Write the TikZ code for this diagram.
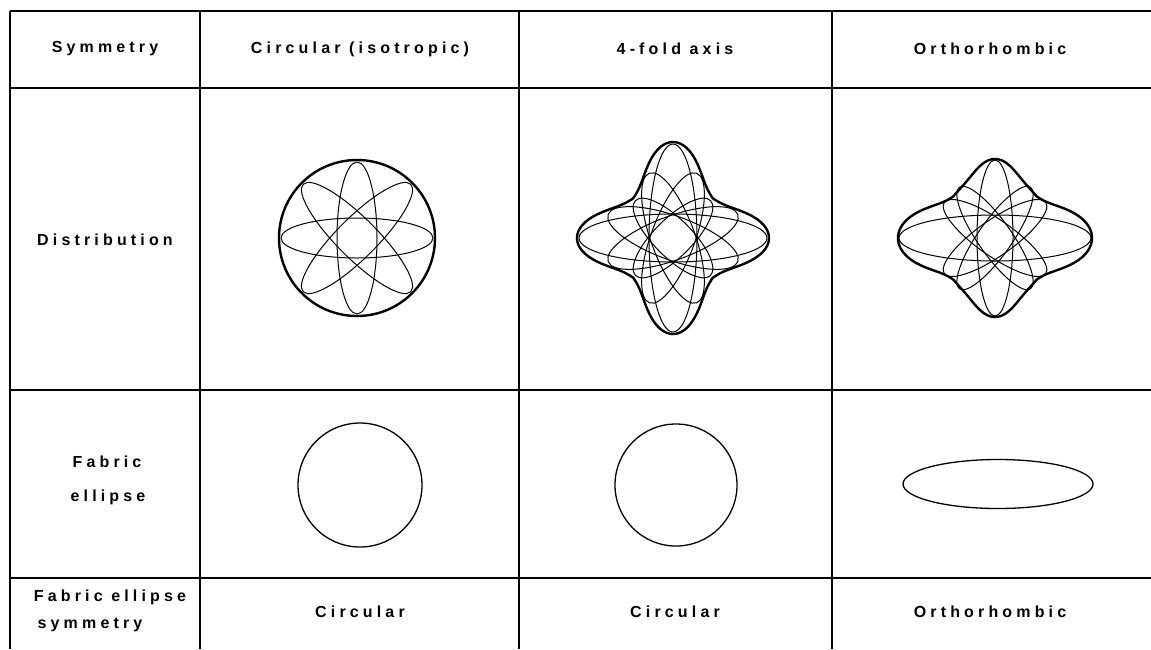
\documentclass[tikz,border=0pt]{standalone}
\usepackage{fontspec}
\newfontfamily\tabfont[LetterSpace=26]{Liberation Sans Bold}

\begin{document}
\begin{tikzpicture}[x=1pt,y=-1pt,font=\tabfont\fontsize{16}{19}\selectfont,
  rule/.style={line width=1.3pt},
  rim/.style={line width=2.4pt},
  orient/.style={line width=1pt},
  fabric/.style={line width=1.3pt},
  declare function={fold(\t)=abs(mod(\t+45,90)-45);}]
\useasboundingbox (0,0) rectangle (1151,649);
\draw[rule] (10,11)--(1151,11);
\draw[rule] (10,88)--(1151,88);
\draw[rule] (10,390)--(1151,390);
\draw[rule] (10,578)--(1151,578);
\draw[rule] (10,11)--(10,649);
\draw[rule] (200,11)--(200,649);
\draw[rule] (519,11)--(519,649);
\draw[rule] (832,11)--(832,649);
\node (sym) at (105,49) {Symmetry};
\node (iso) at (360,49) {Circular (isotropic)};
\node (four) at (675,49) {4-fold axis};
\node (ortho) at (990,49) {Orthorhombic};
\node (dist) at (105,240) {Distribution};
\node (fab) at (107,462) {Fabric};
\node (ell) at (108,497) {ellipse};
\node (fes) at (110,597) {Fabric ellipse};
\node (fessym) at (90,625) {symmetry};
\node (circa) at (360,612) {Circular};
\node (circb) at (675,612) {Circular};
\node (orthob) at (990,612) {Orthorhombic};
\draw[rim] (357,238) circle[radius=78];
\foreach \a in {0,45,90,135}
  \draw[orient,rotate around={\a:(357,238)}] (357,238) ellipse[x radius=76,y radius=20];
\draw[rim,shift={(673,238)}] plot[domain=0:359,samples=360,smooth cycle] (\x:{55+41*exp(-(fold(\x)/24)^2)});
\foreach \a/\ra/\rb in {0/94/24,90/94/24,20/69/22,-20/69/22,70/69/22,110/69/22,45/53/19,135/53/19}
  \draw[orient,rotate around={\a:(673,238)}] (673,238) ellipse[x radius=\ra,y radius=\rb];
\draw[rim,shift={(995,238)}] plot[domain=0:359,samples=360,smooth cycle] (\x:{58+(30+9*cos(2*\x))*exp(-(fold(\x)/(24+4*cos(2*\x)))^2)});
\foreach \a/\ra/\rb in {0/96/23,90/78/18,35/62/18,-35/62/18,55/62/17,125/62/17}
  \draw[orient,rotate around={\a:(995,238)}] (995,238) ellipse[x radius=\ra,y radius=\rb];
\draw[fabric] (360,485) circle[radius=62];
\draw[fabric] (676,485) circle[radius=61];
\draw[fabric] (998,484) ellipse[x radius=95,y radius=24.5];
\end{tikzpicture}
\end{document}
